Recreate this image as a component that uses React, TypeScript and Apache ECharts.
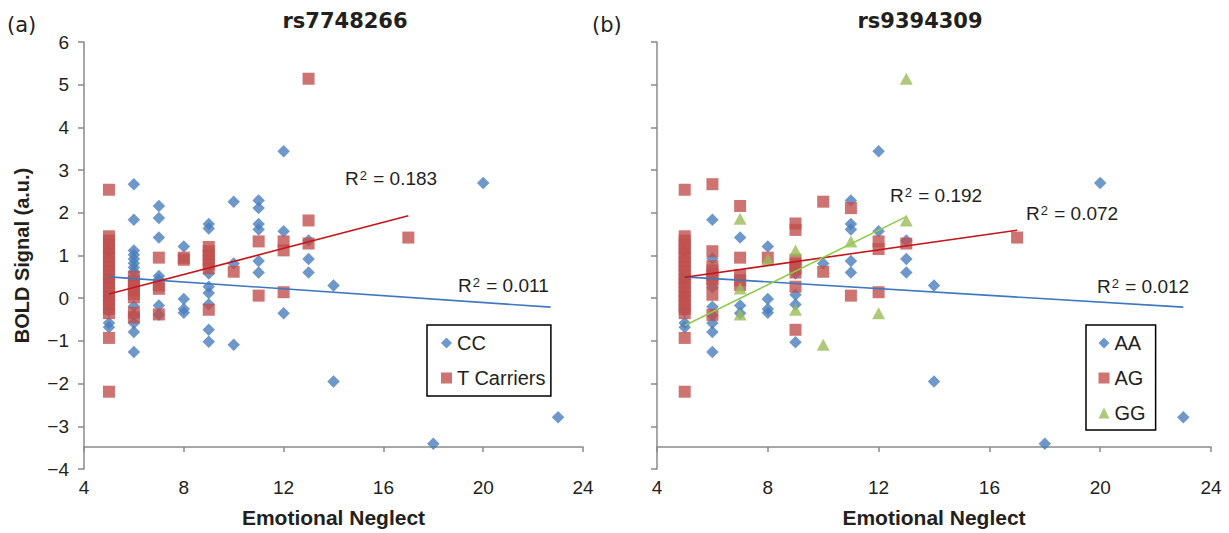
import React, { useEffect, useRef } from "react";
import * as echarts from "echarts";

// ---- data (x value, list of y values at that x) ----
type Col = [number, number[]];

const ccCols: Col[] = [
  [5, [1.09, 0.45, 0.05, -0.3, -0.58, -0.68]],
  [6, [2.67, 1.84, 1.12, 1.02, 0.92, 0.82, 0.72, 0.62, -0.19, -0.39, -0.58, -0.79, -1.26]],
  [7, [2.16, 1.88, 1.42, 0.52, 0.44, -0.17, -0.39]],
  [8, [1.21, -0.02, -0.25, -0.34]],
  [9, [1.74, 1.63, 0.58, 0.27, 0.12, -0.14, -0.74, -1.02]],
  [10, [2.26, 0.81, -1.09]],
  [11, [2.29, 2.11, 1.74, 1.61, 0.87, 0.6]],
  [12, [3.44, 1.57, -0.35]],
  [13, [1.35, 0.92, 0.6]],
  [14, [0.3, -1.95]],
  [18, [-3.41]],
  [20, [2.7]],
  [23, [-2.79]],
];

const tCols: Col[] = [
  [5, [2.54, 1.45, 1.35, 1.25, 1.15, 1.05, 0.95, 0.85, 0.75, 0.65, 0.55, 0.45, 0.35, 0.25, 0.15, 0.05, -0.05, -0.15, -0.25, -0.35, -0.93, -2.19]],
  [6, [0.5, 0.4, 0.3, 0.2, 0.1, 0.02, -0.34, -0.45]],
  [7, [0.95, 0.3, 0.22, -0.38]],
  [8, [0.95, 0.9]],
  [9, [1.2, 1.1, 1.0, 0.9, 0.8, 0.7, -0.27]],
  [10, [0.62]],
  [11, [1.33, 0.06]],
  [12, [1.33, 1.12, 0.14]],
  [13, [5.14, 1.82, 1.28]],
  [17, [1.42]],
];

const aaCols: Col[] = [
  [5, [1.09, 0.45, 0.05, -0.3, -0.58, -0.68]],
  [6, [1.84, 0.93, 0.25, -0.2, -0.4, -0.58, -0.79, -1.26]],
  [7, [1.42, -0.17, -0.35]],
  [8, [1.21, -0.02, -0.25, -0.34]],
  [9, [0.58, 0.08, -0.15, -1.03]],
  [10, [0.81]],
  [11, [2.29, 1.74, 1.61, 0.87, 0.6]],
  [12, [3.44, 1.57]],
  [13, [1.35, 0.92, 0.6]],
  [14, [0.3, -1.95]],
  [18, [-3.41]],
  [20, [2.7]],
  [23, [-2.79]],
];

const agCols: Col[] = [
  [5, [2.54, 1.45, 1.35, 1.25, 1.15, 1.05, 0.95, 0.85, 0.75, 0.65, 0.55, 0.45, 0.35, 0.25, 0.15, 0.05, -0.05, -0.15, -0.25, -0.35, -0.93, -2.19]],
  [6, [2.67, 1.1, 0.75, 0.65, 0.55, 0.45, 0.35, 0.08, -0.39]],
  [7, [2.16, 0.95, 0.54, 0.42, 0.31]],
  [8, [0.95]],
  [9, [1.75, 1.6, 0.9, 0.8, 0.7, 0.6, 0.27, -0.74]],
  [10, [2.26, 0.62]],
  [11, [2.11, 0.06]],
  [12, [1.33, 1.15, 0.14]],
  [13, [1.28]],
  [17, [1.42]],
];

const ggCols: Col[] = [
  [7, [1.86, 0.23, -0.38]],
  [8, [0.91]],
  [9, [1.12, -0.27]],
  [10, [-1.09]],
  [11, [1.33]],
  [12, [-0.35]],
  [13, [5.14, 1.82]],
];

// trend line endpoints
const ccTrend = [[5, 0.5], [22.7, -0.21]];
const tTrend = [[5, 0.1], [17, 1.93]];
const aaTrend = [[5, 0.5], [23, -0.21]];
const agTrend = [[5, 0.49], [17, 1.59]];
const ggTrend = [[5, -0.64], [13, 1.91]];

const r2Left = ["0.183", "0.011"];
const r2Right = ["0.192", "0.072", "0.012"];

const xTicks = { min: 4, max: 24, interval: 4 };
const yTicks = { min: -4, max: 6, interval: 1 };

const flatten = (cols: Col[]) => cols.flatMap(([x, ys]) => ys.map((y) => [x, y]));

const SANS = "Liberation Sans";
const DEJA = "DejaVu Sans";
const AXIS = "#8a8a8a";
const TXT = "#231f20";
const BLUE = "#4A7EBB";
const RED = "#C0504D";
const GREEN = "#9BBB59";

function r2Text(x: number, y: number, v: string) {
  return {
    type: "text",
    x,
    y,
    style: {
      text: `{r|R}{s|2}{r| = ${v}}`,
      verticalAlign: "middle",
      rich: {
        r: { fontSize: 19, fontFamily: SANS, fill: TXT, lineHeight: 22 },
        s: { fontSize: 13, fontFamily: SANS, fill: TXT, lineHeight: 13, verticalAlign: "top", padding: [2, 1, 0, 1] },
      },
    },
  };
}

export default function App() {
  const ref = useRef<HTMLDivElement>(null);
  useEffect(() => {
    if (!ref.current) return;
    const chart = echarts.init(ref.current, undefined, { renderer: "svg" });

    const xAxisBase = {
      type: "value",
      ...xTicks,
      offset: -22,
      axisLine: { onZero: false, lineStyle: { color: AXIS, width: 1.5 } },
      axisTick: { show: true, length: 5, lineStyle: { color: AXIS, width: 1.5 } },
      axisLabel: { margin: 31, fontSize: 19, fontFamily: SANS, color: TXT },
      splitLine: { show: false },
      name: "Emotional Neglect",
      nameLocation: "middle",
      nameGap: 60,
      nameTextStyle: { fontSize: 21, fontWeight: "bold", fontFamily: SANS, color: TXT },
    };
    const yAxisBase = {
      type: "value",
      ...yTicks,
      axisLine: { show: true, onZero: false, lineStyle: { color: AXIS, width: 1.5 } },
      axisTick: { show: true, length: 6, lineStyle: { color: AXIS, width: 1.5 } },
      splitLine: { show: false },
    };

    const legendBase = {
      orient: "vertical",
      itemGap: 15,
      itemWidth: 11,
      itemHeight: 11,
      borderColor: "#000",
      borderWidth: 1.5,
      backgroundColor: "#fff",
      selectedMode: false,
      textStyle: { fontSize: 20, fontFamily: SANS, color: TXT, lineHeight: 20 },
    };

    const trend = (name: string, data: number[][], color: string, idx: number) => ({
      name,
      type: "line",
      xAxisIndex: idx,
      yAxisIndex: idx,
      data,
      symbol: "none",
      z: 5,
      lineStyle: { color, width: 1.6 },
      silent: true,
    });

    chart.setOption({
      animation: false,
      textStyle: { fontFamily: SANS },
      grid: [
        { left: 84, top: 42, width: 499, height: 430 },
        { left: 657, top: 42, width: 554, height: 430 },
      ],
      xAxis: [
        { ...xAxisBase, gridIndex: 0 },
        { ...xAxisBase, gridIndex: 1 },
      ],
      yAxis: [
        {
          ...yAxisBase,
          gridIndex: 0,
          axisLabel: {
            margin: 15,
            fontSize: 19,
            fontFamily: SANS,
            color: TXT,
            formatter: (v: number) => (v < 0 ? "\u2212" + Math.abs(v) : String(v)),
          },
          name: "BOLD Signal (a.u.)",
          nameLocation: "middle",
          nameGap: 52,
          nameTextStyle: { fontSize: 20, fontWeight: "bold", fontFamily: SANS, color: TXT },
        },
        { ...yAxisBase, gridIndex: 1, axisLabel: { show: false } },
      ],
      legend: [
        { ...legendBase, data: ["CC", "T Carriers"], left: 427, top: 325, padding: [8, 5, 8, 14] },
        { ...legendBase, data: ["AA", "AG", "GG"], left: 1086, top: 325, padding: [8, 10, 7, 12.5] },
      ],
      series: [
        { name: "CC", type: "scatter", xAxisIndex: 0, yAxisIndex: 0, symbol: "diamond", symbolSize: 12.5, itemStyle: { color: BLUE }, data: flatten(ccCols) },
        { name: "T Carriers", type: "scatter", xAxisIndex: 0, yAxisIndex: 0, symbol: "rect", symbolSize: 12, itemStyle: { color: RED }, data: flatten(tCols) },
        trend("ccTrend", ccTrend, "#3F78C0", 0),
        trend("tTrend", tTrend, "#C4161C", 0),
        { name: "AA", type: "scatter", xAxisIndex: 1, yAxisIndex: 1, symbol: "diamond", symbolSize: 12.5, itemStyle: { color: BLUE }, data: flatten(aaCols) },
        { name: "AG", type: "scatter", xAxisIndex: 1, yAxisIndex: 1, symbol: "rect", symbolSize: 12, itemStyle: { color: RED }, data: flatten(agCols) },
        { name: "GG", type: "scatter", xAxisIndex: 1, yAxisIndex: 1, symbol: "triangle", symbolSize: [13, 12], itemStyle: { color: GREEN }, data: flatten(ggCols) },
        trend("aaTrend", aaTrend, "#3F78C0", 1),
        trend("agTrend", agTrend, "#C4161C", 1),
        trend("ggTrend", ggTrend, "#8FCB4A", 1),
      ],
      graphic: [
        { type: "text", x: 7, y: 25, style: { text: "(a)", fontSize: 21, fontFamily: DEJA, fill: TXT, verticalAlign: "middle" } },
        { type: "text", x: 592, y: 25, style: { text: "(b)", fontSize: 21, fontFamily: DEJA, fill: TXT, verticalAlign: "middle" } },
        { type: "text", x: 345, y: 21, style: { text: "rs7748266", fontSize: 21, fontWeight: "bold", fontFamily: DEJA, fill: TXT, align: "center", verticalAlign: "middle" } },
        { type: "text", x: 920, y: 21, style: { text: "rs9394309", fontSize: 21, fontWeight: "bold", fontFamily: DEJA, fill: TXT, align: "center", verticalAlign: "middle" } },
        r2Text(345, 178, r2Left[0]),
        r2Text(458, 285, r2Left[1]),
        r2Text(890, 195, r2Right[0]),
        r2Text(1026, 213, r2Right[1]),
        r2Text(1097, 286, r2Right[2]),
      ],
    });
    return () => chart.dispose();
  }, []);
  return <div ref={ref} style={{ position: "absolute", left: 0, top: 0, width: 1229, height: 533 }} />;
}
